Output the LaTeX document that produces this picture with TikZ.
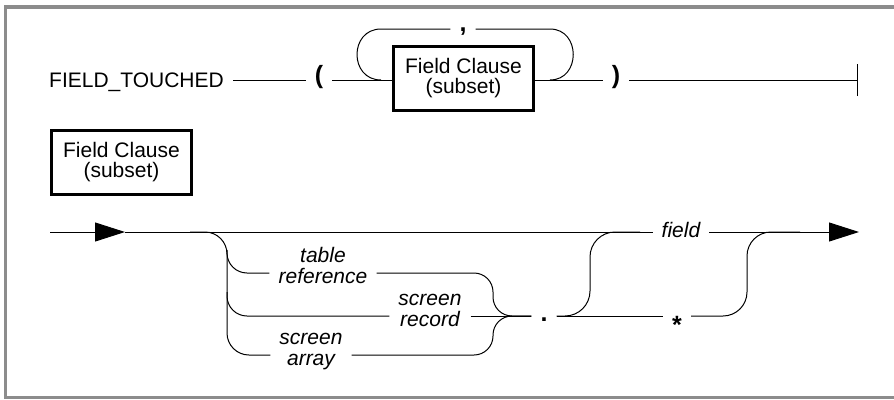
\documentclass[tikz,border=0pt]{standalone}
\usepackage{fontspec}
\setmainfont{Liberation Sans}
\usetikzlibrary{arrows.meta}
\newcommand\rl{\rule[-4.8pt]{0pt}{20.6pt}}

\begin{document}
\begin{tikzpicture}[
x=1pt, y=-1pt,
every node/.style={font=\fontsize{21}{21}\selectfont, inner ysep=0pt, inner xsep=9pt},
clause/.style={draw, line width=3pt, minimum width=140pt, minimum height=64pt, align=center, inner sep=0pt, font=\fontsize{21}{20}\selectfont},
lbl/.style={font=\fontsize{21}{21}\selectfont\itshape, align=center},
sym/.style={font=\fontsize{25}{25}\selectfont\bfseries, anchor=base},
rail/.style={line width=1pt},
pageframe/.style={line width=3.5pt, draw=black!45},
>={Triangle[length=30pt, width=19pt]}
]
\useasboundingbox (0,0) rectangle (894,399);

\draw[pageframe] (894,7) -- (5.5,7) -- (5.5,397.5) -- (894,397.5);

\coordinate (row0) at (0,29);
\coordinate (row1) at (0,80);
\coordinate (bar) at (857,80);

\node (kw) [anchor=base] at (136.5,87.3) {FIELD\_TOUCHED};
\node (lp) [sym] at (319,83) {(};
\node (fc) [clause] at (463.5,78.5) {Field Clause\\(subset)};
\node (rp) [sym] at (616,83) {)};
\node (cm) [sym] at (463,31) {,};

\coordinate (loopL) at (381,80);
\coordinate (loopR) at (550,80);

\draw[rail] (kw.east |- row1) -- (lp.west |- row1);
\draw[rail] (lp.east |- row1) -- (fc.west |- row1);
\draw[rail] (fc.east |- row1) -- (rp.west |- row1);
\draw[rail] (rp.east |- row1) -- (bar);
\draw[rail] ([yshift=-16pt]bar) -- ([yshift=16pt]bar);
\draw[rail] (loopL) .. controls (349,80) and (349,29) .. (loopL |- row0) -- (cm.west |- row0);
\draw[rail] (cm.east |- row0) -- (loopR |- row0) .. controls (581,29) and (581,80) .. (loopR);

\node (fcDef) [clause] at (121.5,162.5) {Field Clause\\(subset)};

\coordinate (rA) at (0,232);
\coordinate (rT) at (0,273);
\coordinate (rR) at (0,316);
\coordinate (rY) at (0,355);
\coordinate (in) at (50,232);
\coordinate (inTip) at (125,232);
\coordinate (out) at (859,232);

\node (fd) [lbl] at (681,232) {\rl field};
\node (tr) [lbl] at (323,267.3) {\rl table\\\rl reference};
\node (sr) [lbl] at (430,310) {\rl screen\\\rl record};
\node (sa) [lbl] at (311,349) {\rl screen\\\rl array};
\node (dt) [sym] at (544,321.5) {.};
\node (as) [sym] at (677,333.5) {*};

\draw[rail, ->] (in) -- (inTip);
\draw[rail] (inTip) -- (fd.west);
\draw[rail, ->] (fd.east) -- (out);

\draw[rail, rounded corners=22pt] (190,232) -- (227,232) -- (227,355) -- (sa.west |- rY);
\draw[rail, rounded corners=20pt] (227,250) -- (227,273) -- (tr.west |- rT);
\draw[rail, rounded corners=20pt] (227,292) -- (227,316) -- (sr.west |- rR);

\draw[rail, rounded corners=19pt] (tr.east |- rT) -- (493,273) -- (493,316) -- (dt.west |- rR);
\draw[rail, rounded corners=19pt] (sa.east |- rY) -- (493,355) -- (493,316) -- (dt.west |- rR);
\draw[rail] (sr.east |- rR) -- (dt.west |- rR);

\draw[rail, rounded corners=25pt] (dt.east |- rR) -- (590,316) -- (590,232) -- (640,232);
\draw[rail] (dt.east |- rR) -- (as.west |- rR);
\draw[rail, rounded corners=24pt] (as.east |- rR) -- (747,316) -- (747,232) -- (800,232);

\end{tikzpicture}
\end{document}
